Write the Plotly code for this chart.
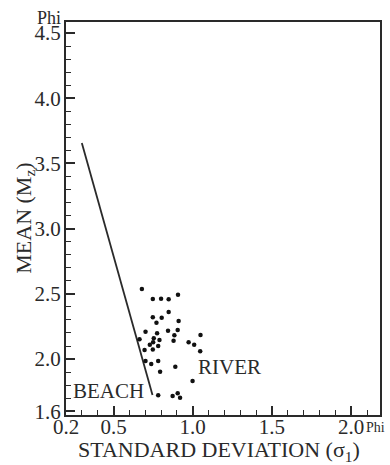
import plotly.graph_objects as go

# Sample points: standard deviation (sigma_I, phi) vs mean (Mz, phi)
std_dev = [0.679, 0.748, 0.800, 0.848, 0.907, 0.848, 0.748, 0.804, 0.911, 0.771,
           0.702, 0.775, 0.844, 0.905, 0.884, 1.049, 0.664, 0.754, 0.790, 0.879,
           0.750, 0.974, 1.009, 0.729, 0.782, 0.696, 0.748, 1.047, 0.702, 0.738,
           0.782, 0.890, 0.794, 0.999, 0.782, 0.873, 0.905, 0.920]
mean = [2.537, 2.460, 2.462, 2.458, 2.493, 2.360, 2.320, 2.317, 2.291, 2.278,
        2.209, 2.197, 2.217, 2.222, 2.182, 2.184, 2.151, 2.159, 2.146, 2.140,
        2.128, 2.128, 2.110, 2.110, 2.100, 2.069, 2.074, 2.059, 1.985, 1.962,
        1.985, 1.941, 1.903, 1.831, 1.722, 1.716, 1.737, 1.703]

# Beach / river discrimination line
line_x = [0.300, 0.746]
line_y = [3.656, 1.724]

x_tickvals = [0.2, 0.5, 1.0, 1.5, 2.0]
x_ticktext = ["0.2", "0.5", "1.0", "1.5", "2.0"]
y_tickvals = [1.6, 2.0, 2.5, 3.0, 3.5, 4.0, 4.5]
y_ticktext = ["1.6", "2.0", "2.5", "3.0", "3.5", "4.0", "4.5"]

FONT = "Liberation Serif, Times New Roman, serif"
INK = "#2a2a2a"

fig = go.Figure()
fig.add_trace(go.Scatter(x=line_x, y=line_y, mode="lines",
                         line=dict(color=INK, width=1.8), hoverinfo="skip"))
fig.add_trace(go.Scatter(x=std_dev, y=mean, mode="markers",
                         marker=dict(color="#111111", size=4.5)))

axis_common = dict(
    showgrid=False, zeroline=False, showline=True, linecolor=INK, linewidth=2,
    mirror=True, ticks="inside", ticklen=9, tickwidth=1.5, tickcolor=INK,
    tickfont=dict(family=FONT, size=21, color=INK),
)

fig.update_xaxes(range=[0.2, 2.182], tickmode="array", tickvals=x_tickvals,
                 ticktext=x_ticktext, ticklabelstandoff=-8,
                 minor=dict(ticks="inside", dtick=0.1, tick0=0.2, ticklen=5,
                            tickwidth=1.2, tickcolor=INK, showgrid=False),
                 **axis_common)
fig.update_yaxes(range=[1.571, 4.584], tickmode="array", tickvals=y_tickvals,
                 ticktext=y_ticktext, ticklabelstandoff=-1,
                 minor=dict(ticks="inside", dtick=0.1, tick0=1.6, ticklen=5,
                            tickwidth=1.2, tickcolor=INK, showgrid=False),
                 **axis_common)

annotations = [
    dict(text="BEACH", x=0.467, y=1.755, xref="x", yref="y", showarrow=False,
         font=dict(family=FONT, size=21, color=INK)),
    dict(text="RIVER", x=1.235, y=1.941, xref="x", yref="y", showarrow=False,
         font=dict(family=FONT, size=21, color=INK)),
    dict(text="Phi", x=0, y=1.01, xref="paper", yref="paper", xanchor="right",
         yanchor="middle", xshift=-3, showarrow=False,
         font=dict(family=FONT, size=18, color=INK)),
    dict(text="Phi", x=0.987, y=-0.033, xref="paper", yref="paper",
         xanchor="center", yanchor="middle", showarrow=False,
         font=dict(family=FONT, size=14, color=INK)),
    dict(text="STANDARD DEVIATION (σ<sub>1</sub>)", x=0.486, y=-0.092,
         xref="paper", yref="paper", xanchor="center", yanchor="middle",
         showarrow=False, font=dict(family=FONT, size=22, color=INK)),
    dict(text="MEAN (M<sub>z</sub>)", x=-0.133, y=0.5, xref="paper",
         yref="paper", xanchor="center", yanchor="middle", textangle=-90,
         showarrow=False, font=dict(family=FONT, size=22, color=INK)),
]

fig.update_layout(
    width=390, height=465,
    margin=dict(l=66, r=8, t=22, b=50),
    paper_bgcolor="white", plot_bgcolor="white",
    showlegend=False,
    annotations=annotations,
    font=dict(family=FONT, color=INK),
)

fig.write_html("out.html", config={"displayModeBar": False},
               post_script="document.body.style.margin='0px';"
                           "document.body.style.overflow='hidden';")
